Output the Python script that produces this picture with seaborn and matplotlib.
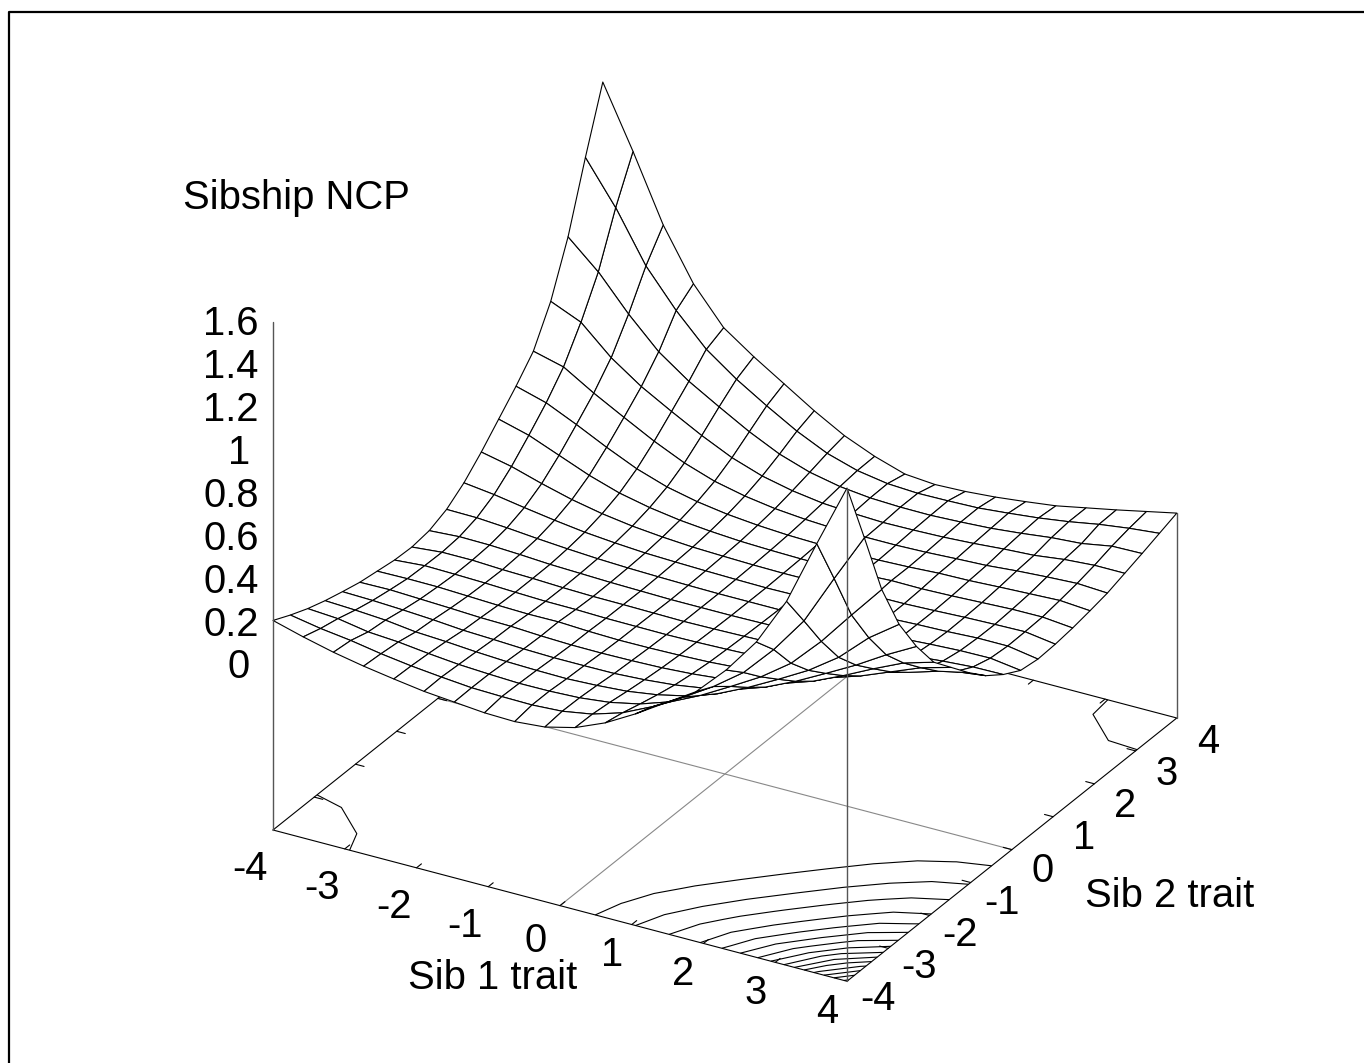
import numpy as np
import seaborn as sns
import matplotlib
matplotlib.use('Agg')
import matplotlib.pyplot as plt
from matplotlib.lines import Line2D
from mpl_toolkits.mplot3d import proj3d

# 20 x 20 grid over both traits, the surface is nearly point symmetric so only read half of it
sib1_grid = np.linspace(-4, 4, 20)
sib2_grid = np.linspace(-4, 4, 20)
ncp_half = [
    [.19, .15, .115, .087, .064, .043, .03, .017, .013, .025, .06, .12, .20, .29, .38, .48, .65, .89, 1.20, 1.49],
    [.15, .124, .105, .08, .06, .045, .032, .028, .026, .034, .058, .102, .169, .251, .339, .443, .589, .762, 1.0, 1.20],
    [.115, .105, .08, .07, .053, .039, .031, .025, .026, .032, .048, .078, .126, .194, .274, .357, .459, .60, .762, .89],
    [.087, .08, .07, .052, .044, .033, .025, .021, .019, .025, .035, .056, .088, .137, .204, .28, .36, .459, .589, .65],
    [.064, .06, .053, .044, .032, .026, .019, .015, .015, .016, .024, .037, .059, .091, .14, .205, .28, .357, .443, .48],
    [.043, .045, .039, .033, .026, .023, .015, .01, .009, .011, .015, .024, .038, .06, .092, .14, .204, .274, .339, .38],
    [.03, .032, .031, .025, .019, .015, .016, .009, .005, .006, .009, .014, .024, .038, .06, .091, .137, .194, .251, .29],
    [.017, .028, .025, .021, .015, .01, .009, .005, .004, .003, .005, .009, .014, .024, .038, .059, .088, .126, .169, .20],
    [.013, .026, .026, .019, .015, .009, .005, .004, .002, .0, .002, .005, .009, .014, .024, .037, .056, .078, .102, .12],
    [.025, .034, .032, .025, .016, .011, .006, .003, .0, .0, .0, .002, .005, .009, .015, .024, .035, .048, .058, .06],
]
# the corners that the half above does not get quite right when mirrored
front_peak_edge = [1.53, 1.23, .92, .69, .52]
right_corner_edge = [.168, .138, .108, .08, .052, .034, .018, .007, .002, .014]
contour_levels = [.1, .2, .3, .4, .5, .6, .7, .8, .9, 1.0, 1.1, 1.2, 1.3, 1.4, 1.5]
xy_ticks = [-4, -3, -2, -1, 0, 1, 2, 3, 4]
z_ticks = [0, .2, .4, .6, .8, 1, 1.2, 1.4, 1.6]
z_labels = ['0', '0.2', '0.4', '0.6', '0.8', '1', '1.2', '1.4', '1.6']
z_base = -.8
z_top = 1.6

half = np.array(ncp_half)
Z = np.vstack([half, half[::-1, ::-1]])
for k, v in enumerate(front_peak_edge):
    Z[19, k] = v
    Z[19 - k, 0] = v
for k, v in enumerate(right_corner_edge):
    Z[19, 19 - k] = v
    Z[19 - k, 19] = v
X, Y = np.meshgrid(sib1_grid, sib2_grid, indexing='ij')

W, H = 1364, 1063
sns.set_theme(style='white')
plt.rcParams['font.family'] = ['Liberation Sans', 'DejaVu Sans']
plt.rcParams['text.color'] = 'black'

fig = plt.figure(figsize=(W / 100, H / 100), dpi=100)
fig.patch.set_facecolor('white')
ax = fig.add_subplot(projection='3d', computed_zorder=False)
ax.set_proj_type('ortho')
ax.view_init(elev=30, azim=-60.12)
ax.set_xlim(-4, 4, view_margin=0)
ax.set_ylim(-4, 4, view_margin=0)
ax.set_zlim(z_base, z_top, view_margin=0)
ax.set_box_aspect((1, 1, .966))
ax.set_axis_off()
ax.patch.set_alpha(0)


def flat(x, y, z):
    px, py, _ = proj3d.proj_transform(x, y, z, ax.get_proj())
    return px, py


# stretch the axes so that the base corners land where gnuplot had them
ax.apply_aspect = lambda position=None: None
ax_a = flat(-4, -4, z_base)
ax_b = flat(4, -4, z_base)
ax_t = flat(-4, -4, z_top)
sx = (847 - 273) / (ax_b[0] - ax_a[0])
sy = (830 - 322) / (ax_t[1] - ax_a[1])
x0, x1 = ax.viewLim.intervalx
y0, y1 = ax.viewLim.intervaly
left = 273 + sx * (x0 - ax_a[0])
bottom = (H - 830) + sy * (y0 - ax_a[1])
ax.set_position([left / W, bottom / H, sx * (x1 - x0) / W, sy * (y1 - y0) / H])

line_kw = dict(color='black', lw=.8)

# floor: contours and zero axes go under the surface
ax.contour(X, Y, Z, levels=contour_levels, zdir='z', offset=z_base, colors='black',
           linewidths=.8, zorder=1)
ax.plot([-4, 4], [0, 0], [z_base, z_base], color='#888888', lw=.8, zorder=1)
ax.plot([0, 0], [-4, 4], [z_base, z_base], color='#888888', lw=.8, zorder=1)
ax.plot([-4, 4, 4, -4, -4], [-4, -4, 4, 4, -4], [z_base] * 5, zorder=1, **line_kw)
for t in xy_ticks[1:-1]:
    ax.plot([t, t], [-4, -3.88], [z_base, z_base], zorder=1, **line_kw)
    ax.plot([t, t], [4, 3.88], [z_base, z_base], zorder=1, **line_kw)
    ax.plot([-4, -3.88], [t, t], [z_base, z_base], zorder=1, **line_kw)
    ax.plot([4, 3.88], [t, t], [z_base, z_base], zorder=1, **line_kw)

ax.plot_surface(X, Y, Z, rstride=1, cstride=1, color='white', edgecolor='black',
                linewidth=.8, shade=False, antialiased=True, zorder=2)

# corner posts, the front one sits on top of the surface
ax.plot([-4, -4], [-4, -4], [z_base, z_top], color='#555555', lw=1.0, zorder=3)
ax.plot([4, 4], [-4, -4], [z_base, Z[19, 0]], color='#555555', lw=1.0, zorder=3)
ax.plot([4, 4], [4, 4], [z_base, Z[19, 19]], color='#555555', lw=1.0, zorder=3)

font = 28.8
for t in xy_ticks:
    off = (-23, -39.5) if t < 0 else (-24, -35) if t == 0 else (-20, -30.5)
    ax.annotate(str(t), flat(t, -4, z_base), xytext=off, textcoords='offset pixels',
                ha='center', va='center', fontsize=font, annotation_clip=False)
    ax.annotate(str(t), flat(4, t, z_base), xytext=(31, -18 - (t + 4) * .72), textcoords='offset pixels',
                ha='center', va='center', fontsize=font, annotation_clip=False)
for t, lab in zip(z_ticks, z_labels):
    ax.annotate(lab, flat(-4, -4, t), xytext=(-42 if len(lab) > 1 else -34, -2 - (1.6 - t) * 3),
                textcoords='offset pixels', ha='center', va='center', fontsize=font,
                annotation_clip=False)

fig.text(183 / W, 1 - 198 / H, 'Sibship NCP', ha='left', va='center', fontsize=font)
fig.text(408 / W, 1 - 978 / H, 'Sib 1 trait', ha='left', va='center', fontsize=font)
fig.text(1085 / W, 1 - 896 / H, 'Sib 2 trait', ha='left', va='center', fontsize=font)

# the frame only shows on the top and left
fig.add_artist(Line2D([9 / W, 9 / W, 1], [0, 1 - 12 / H, 1 - 12 / H], transform=fig.transFigure,
                      color='black', lw=1.6))

fig.savefig('out.png', dpi=100)
